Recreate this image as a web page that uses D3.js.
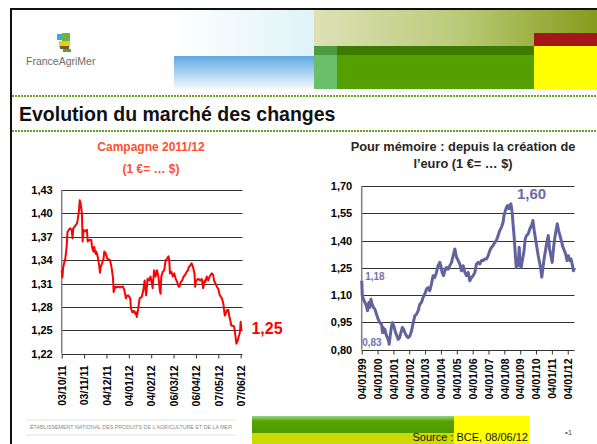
<!DOCTYPE html>
<html>
<head>
<meta charset="utf-8">
<script src="https://cdn.jsdelivr.net/npm/d3@7"></script>
<style>
  body { margin: 0; background: #fff; }
  svg { display: block; font-family: Arial, "Liberation Sans", sans-serif; }
</style>
</head>
<body>
<div id="chart"></div>
<script>
// --- data ---

// Campagne 2011/12, 1 EUR = ... USD
const campagneDates = [
  "2011-10-03","2011-10-04","2011-10-05","2011-10-08","2011-10-10","2011-10-11","2011-10-13","2011-10-15",
  "2011-10-17","2011-10-18","2011-10-19","2011-10-21","2011-10-24","2011-10-25","2011-10-27","2011-10-28",
  "2011-10-29","2011-10-31","2011-11-01","2011-11-02","2011-11-04","2011-11-07","2011-11-08","2011-11-10",
  "2011-11-13","2011-11-14","2011-11-16","2011-11-17","2011-11-19","2011-11-20","2011-11-22","2011-11-24",
  "2011-11-25","2011-11-26","2011-11-28","2011-11-30","2011-12-01","2011-12-03","2011-12-05","2011-12-07",
  "2011-12-09","2011-12-11","2011-12-13","2011-12-14","2011-12-16","2011-12-18","2011-12-20","2011-12-23",
  "2011-12-25","2011-12-27","2011-12-29","2011-12-31","2012-01-01","2012-01-03","2012-01-06","2012-01-07",
  "2012-01-09","2012-01-11","2012-01-13","2012-01-14","2012-01-15","2012-01-17","2012-01-19","2012-01-22",
  "2012-01-24","2012-01-26","2012-01-28","2012-01-30","2012-02-01","2012-02-03","2012-02-05","2012-02-06",
  "2012-02-08","2012-02-10","2012-02-12","2012-02-14","2012-02-16","2012-02-17","2012-02-18","2012-02-20",
  "2012-02-22","2012-02-24","2012-02-26","2012-02-28","2012-02-29","2012-03-01","2012-03-03","2012-03-05",
  "2012-03-07","2012-03-09","2012-03-11","2012-03-13","2012-03-14","2012-03-16","2012-03-18","2012-03-20",
  "2012-03-22","2012-03-24","2012-03-26","2012-03-27","2012-03-29","2012-03-31","2012-04-02","2012-04-04",
  "2012-04-05","2012-04-06","2012-04-07","2012-04-09","2012-04-12","2012-04-14","2012-04-16","2012-04-18",
  "2012-04-19","2012-04-21","2012-04-23","2012-04-25","2012-04-28","2012-04-30","2012-05-01","2012-05-03",
  "2012-05-05","2012-05-07","2012-05-09","2012-05-12","2012-05-14","2012-05-15","2012-05-16","2012-05-18",
  "2012-05-19","2012-05-21","2012-05-22","2012-05-24","2012-05-25","2012-05-28","2012-05-29","2012-05-30",
  "2012-05-31","2012-06-01","2012-06-03","2012-06-04","2012-06-05","2012-06-06","2012-06-07","2012-06-08"
];
const campagneRates = [
  1.327,1.318,1.331,1.342,1.359,1.376,1.379,1.381,
  1.378,1.368,1.381,1.383,1.387,1.391,1.404,1.417,
  1.414,1.400,1.364,1.379,1.377,1.379,1.364,1.366,
  1.366,1.357,1.351,1.357,1.348,1.351,1.344,1.333,
  1.324,1.331,1.336,1.342,1.351,1.349,1.342,1.341,
  1.340,1.331,1.318,1.299,1.306,1.305,1.306,1.305,
  1.306,1.306,1.301,1.291,1.294,1.295,1.291,1.278,
  1.273,1.275,1.271,1.273,1.267,1.278,1.291,1.293,
  1.301,1.314,1.295,1.316,1.314,1.319,1.310,1.304,
  1.327,1.319,1.327,1.319,1.301,1.297,1.319,1.325,
  1.327,1.340,1.342,1.345,1.340,1.323,1.325,1.319,
  1.323,1.316,1.312,1.306,1.306,1.312,1.314,1.319,
  1.321,1.325,1.327,1.331,1.333,1.336,1.331,1.323,
  1.306,1.314,1.314,1.316,1.314,1.316,1.304,1.314,
  1.312,1.319,1.314,1.319,1.323,1.321,1.314,1.310,
  1.306,1.303,1.295,1.291,1.284,1.276,1.269,1.273,
  1.276,1.276,1.269,1.261,1.256,1.256,1.254,1.248,
  1.241,1.233,1.237,1.241,1.244,1.248,1.261,1.250
];
const campagneTicks = ["03/10/11","03/11/11","04/12/11","04/01/12","04/02/12","06/03/12","06/04/12","07/05/12","07/06/12"];
const campagneYTicks = [1.22, 1.25, 1.28, 1.31, 1.34, 1.37, 1.40, 1.43];

// Depuis la création de l'euro
const euroDates = [
  "1999-01-04","1999-01-18","1999-02-14","1999-03-17","1999-04-23","1999-05-18","1999-06-17","1999-07-09",
  "1999-08-03","1999-09-02","1999-10-03","1999-11-03","1999-12-11","2000-01-19","2000-02-25","2000-04-05",
  "2000-04-27","2000-05-12","2000-06-05","2000-06-20","2000-07-29","2000-09-06","2000-09-29","2000-10-22",
  "2000-11-22","2000-12-15","2001-01-23","2001-02-23","2001-03-25","2001-04-25","2001-05-26","2001-06-26",
  "2001-07-27","2001-08-27","2001-09-24","2001-11-01","2001-12-10","2002-01-19","2002-02-25","2002-04-05",
  "2002-05-12","2002-06-20","2002-07-27","2002-09-05","2002-10-12","2002-11-20","2002-12-28","2003-02-06",
  "2003-03-15","2003-04-22","2003-05-30","2003-07-08","2003-08-14","2003-09-23","2003-10-31","2003-12-09",
  "2004-01-01","2004-02-01","2004-03-03","2004-04-04","2004-05-12","2004-06-20","2004-07-27","2004-09-05",
  "2004-10-12","2004-11-20","2004-12-28","2005-02-05","2005-03-14","2005-04-22","2005-05-30","2005-07-08",
  "2005-08-14","2005-09-23","2005-10-31","2005-12-09","2006-01-15","2006-02-24","2006-04-01","2006-05-11",
  "2006-06-17","2006-07-26","2006-09-02","2006-10-12","2006-11-18","2006-12-28","2007-02-03","2007-03-14",
  "2007-04-20","2007-05-30","2007-07-05","2007-08-14","2007-09-20","2007-10-31","2007-12-06","2007-12-28",
  "2008-01-30","2008-02-24","2008-03-17","2008-04-16","2008-05-11","2008-06-03","2008-07-02","2008-07-26",
  "2008-08-18","2008-09-10","2008-10-03","2008-10-26","2008-11-18","2008-12-12","2009-01-04","2009-01-27",
  "2009-02-27","2009-03-29","2009-04-29","2009-05-30","2009-07-08","2009-08-14","2009-09-23","2009-10-23",
  "2009-11-22","2009-12-23","2010-01-23","2010-02-23","2010-04-01","2010-04-23","2010-05-16","2010-06-08",
  "2010-07-08","2010-08-10","2010-09-09","2010-10-12","2010-11-11","2010-12-12","2011-01-11","2011-02-13",
  "2011-03-14","2011-04-15","2011-05-08","2011-06-08","2011-07-08","2011-08-17","2011-09-17","2011-10-18",
  "2011-11-17","2011-12-19","2012-01-19","2012-02-20","2012-03-21","2012-04-22","2012-05-15","2012-06-08"
];
const euroRates = [
  1.179,1.096,1.078,1.060,1.041,1.014,1.060,1.032,
  1.078,1.050,1.032,1.023,0.995,0.968,0.949,0.940,
  0.894,0.922,0.894,0.913,0.876,0.857,0.830,0.876,
  0.931,0.949,0.922,0.894,0.876,0.857,0.866,0.894,
  0.922,0.913,0.894,0.876,0.866,0.876,0.903,0.949,
  0.986,0.995,1.014,1.050,1.060,1.088,1.106,1.133,
  1.142,1.124,1.161,1.207,1.198,1.225,1.262,1.280,
  1.262,1.225,1.207,1.234,1.253,1.243,1.262,1.280,
  1.317,1.354,1.308,1.290,1.271,1.234,1.262,1.225,
  1.207,1.225,1.179,1.197,1.207,1.225,1.271,1.280,
  1.271,1.290,1.290,1.299,1.299,1.317,1.345,1.363,
  1.372,1.391,1.400,1.428,1.455,1.474,1.501,1.538,
  1.566,1.584,1.593,1.575,1.593,1.602,1.556,1.483,
  1.418,1.335,1.253,1.299,1.262,1.363,1.262,1.253,
  1.299,1.335,1.409,1.428,1.437,1.464,1.483,1.510,
  1.455,1.409,1.363,1.317,1.271,1.245,1.199,1.245,
  1.299,1.345,1.391,1.428,1.354,1.317,1.280,1.363,
  1.418,1.464,1.492,1.455,1.428,1.391,1.363,1.345,
  1.327,1.290,1.317,1.290,1.299,1.262,1.234,1.250
];
const euroTicks = ["04/01/99","04/01/00","04/01/01","04/01/02","04/01/03","04/01/04","04/01/05",
                   "04/01/06","04/01/07","04/01/08","04/01/09","04/01/10","04/01/11","04/01/12"];
const euroYTicks = [0.80, 0.95, 1.10, 1.25, 1.40, 1.55, 1.70];

// --- setup ---
const W = 597, H = 444;
const FONT = "Arial, 'Liberation Sans', sans-serif";
const parseDay = d3.timeParse("%Y-%m-%d");
const parseTick = d3.timeParse("%d/%m/%y");
const fr = d3.formatLocale({ decimal: ",", thousands: " ", grouping: [3], currency: ["", " €"] });
const fmt2 = fr.format(".2f");

const svg = d3.select("#chart").append("svg")
    .attr("width", W)
    .attr("height", H);
const defs = svg.append("defs");

function gradient(id, vertical, stops) {
  const g = defs.append("linearGradient").attr("id", id)
      .attr("x1", 0).attr("y1", 0)
      .attr("x2", vertical ? 0 : 1).attr("y2", vertical ? 1 : 0);
  stops.forEach(s => g.append("stop").attr("offset", s[0]).attr("stop-color", s[1]));
}
gradient("haze", false, [[0, "#ffffff"], [1, "#dff3f8"]]);
gradient("sky", true, [[0, "#5fa8e2"], [1, "#f4faff"]]);
gradient("olive", false, [[0, "#dde1b6"], [0.5, "#bccb7a"], [1, "#869b1c"]]);
gradient("footGreen", true, [[0, "#9ad48a"], [0.3, "#58a300"], [1, "#4f9a00"]]);

// --- header ---
svg.append("rect").attr("x", 170).attr("y", 10).attr("width", 144).attr("height", 48).attr("fill", "url(#haze)");
svg.append("rect").attr("x", 174).attr("y", 56).attr("width", 140).attr("height", 33).attr("fill", "url(#sky)");
svg.append("rect").attr("x", 314).attr("y", 10).attr("width", 283).attr("height", 36).attr("fill", "url(#olive)");
svg.append("rect").attr("x", 534).attr("y", 33).attr("width", 63).attr("height", 13).attr("fill", "#a3161a");
svg.append("rect").attr("x", 314).attr("y", 46).attr("width", 220).attr("height", 43).attr("fill", "#54a000");
svg.append("rect").attr("x", 314).attr("y", 46).attr("width", 220).attr("height", 9).attr("fill", "#3d7a02");
svg.append("rect").attr("x", 314).attr("y", 46).attr("width", 23).attr("height", 43).attr("fill", "#6cbf6a");
svg.append("rect").attr("x", 314).attr("y", 46).attr("width", 23).attr("height", 9).attr("fill", "#4e9a40");
svg.append("rect").attr("x", 534).attr("y", 46).attr("width", 63).attr("height", 43).attr("fill", "#ffff00");

// logo
const logo = svg.append("g");
logo.append("rect").attr("x", 57).attr("y", 34).attr("width", 5).attr("height", 6).attr("fill", "#3aa8d8");
logo.append("rect").attr("x", 62).attr("y", 33).attr("width", 8).attr("height", 8).attr("fill", "#6db33f");
logo.append("rect").attr("x", 59).attr("y", 41).attr("width", 11).attr("height", 6).attr("fill", "#e4cf1c");
logo.append("rect").attr("x", 60).attr("y", 46).attr("width", 9).attr("height", 3).attr("fill", "#7a5a2a");
logo.append("rect").attr("x", 63).attr("y", 49).attr("width", 8).attr("height", 3).attr("fill", "#5ca03a");
logo.append("text").attr("x", 26).attr("y", 65)
    .style("font-family", FONT).style("font-size", "10.5px").attr("fill", "#6b6b6b")
    .text("FranceAgriMer");

// separators and title
[96, 131].forEach(yy => svg.append("line")
    .attr("x1", 12).attr("x2", W).attr("y1", yy).attr("y2", yy)
    .attr("stroke", "#6aa121").attr("stroke-width", 2).attr("stroke-dasharray", "2,1"));

svg.append("text").attr("x", 19).attr("y", 121)
    .style("font-family", FONT).style("font-size", "19.5px").style("font-weight", "bold")
    .attr("fill", "#111").text("Evolution du marché des changes");

// --- panels ---
function drawPanel(o) {
  const g = svg.append("g");
  const x = d3.scaleTime().domain(o.xDomain).range([o.left, o.right]);
  const y = d3.scaleLinear().domain(o.yDomain).range([o.bottom, o.top]);

  g.selectAll("line.grid")
    .data(o.yTicks.slice(1))
    .join("line")
    .attr("class", "grid")
    .attr("x1", o.left).attr("x2", o.gridEnd)
    .attr("y1", d => Math.round(y(d)) + 0.5).attr("y2", d => Math.round(y(d)) + 0.5)
    .attr("stroke", "#333").attr("stroke-width", 1.2);

  g.append("g")
      .attr("transform", `translate(${o.left},0)`)
      .call(d3.axisLeft(y).tickValues(o.yTicks).tickFormat(fmt2).tickSize(0).tickPadding(o.yPad))
      .call(a => a.select(".domain").remove())
      .selectAll("text")
      .attr("font-family", FONT)
      .style("font-size", "11px").style("font-weight", "bold").attr("fill", "#000");

  g.append("line")
      .attr("x1", o.left).attr("x2", o.left).attr("y1", o.top).attr("y2", o.bottom)
      .attr("stroke", "#808080").attr("stroke-width", 1.5);

  const xa = g.append("g")
      .attr("transform", `translate(0,${Math.round(o.bottom) + 0.5})`)
      .call(d3.axisBottom(x)
          .tickValues(o.xTicks.map(parseTick))
          .tickFormat(d3.timeFormat("%d/%m/%y"))
          .tickSize(4).tickSizeOuter(0));
  xa.select(".domain").attr("stroke", "#333").attr("stroke-width", 1.2)
      .attr("d", `M${o.left},0H${o.gridEnd}`);
  xa.selectAll(".tick line").attr("stroke", "#333");
  xa.selectAll(".tick text")
      .attr("font-family", FONT)
      .style("font-size", "10.5px").style("font-weight", "bold").attr("fill", "#000")
      .attr("transform", "rotate(-90)")
      .attr("x", -o.xLabelGap).attr("y", 0).attr("dy", "0.36em")
      .attr("text-anchor", "end");

  const pts = o.dates.map((d, i) => ({ date: parseDay(d), value: o.values[i] }));
  g.append("path")
      .datum(pts)
      .attr("fill", "none")
      .attr("stroke", o.color)
      .attr("stroke-width", o.lineWidth)
      .attr("stroke-linejoin", "round")
      .attr("d", d3.line().x(d => x(d.date)).y(d => y(d.value)));

  o.titles.forEach((t, i) => g.append("text")
      .attr("x", o.titleX).attr("y", o.titleY + i * o.titleStep)
      .attr("text-anchor", "middle")
      .style("font-family", FONT).style("font-size", o.titleSize).style("font-weight", "bold")
      .attr("fill", o.titleColor).text(t));

  return { g, x, y, pts };
}

const left = drawPanel({
  dates: campagneDates, values: campagneRates,
  xDomain: [parseDay("2011-10-03"), parseDay("2012-06-08")], xTicks: campagneTicks,
  yDomain: [1.22, 1.43], yTicks: campagneYTicks,
  left: 61.7, right: 241.4, gridEnd: 242.5, top: 190, bottom: 353.7,
  yPad: 9, xLabelGap: 11,
  color: "#ff0000", lineWidth: 2,
  titles: ["Campagne 2011/12", "(1 €= … $)"], titleX: 151, titleY: 151, titleStep: 21.5,
  titleSize: "12px", titleColor: "#ff4f2e"
});

const right = drawPanel({
  dates: euroDates, values: euroRates,
  xDomain: [parseDay("1999-01-04"), parseDay("2012-06-08")], xTicks: euroTicks,
  yDomain: [0.80, 1.70], yTicks: euroYTicks,
  left: 361.7, right: 574.5, gridEnd: 574.5, top: 186, bottom: 349.7,
  yPad: 9.5, xLabelGap: 8,
  color: "#62639d", lineWidth: 3,
  titles: ["Pour mémoire : depuis la création de", "l’euro (1 €= … $)"], titleX: 463, titleY: 151, titleStep: 16.5,
  titleSize: "12.8px", titleColor: "#262626"
});

// value call-outs, taken from the series
const lastL = left.pts[left.pts.length - 1];
svg.append("text")
    .attr("x", left.x(lastL.date) + 10).attr("y", left.y(lastL.value) + 3.5)
    .style("font-family", FONT).style("font-size", "16px").style("font-weight", "bold")
    .attr("fill", "#ff0000").text(fmt2(lastL.value));

const maxR = right.pts.reduce((a, b) => b.value > a.value ? b : a);
const minR = right.pts.reduce((a, b) => b.value < a.value ? b : a);
const firstR = right.pts[0];
svg.append("text")
    .attr("x", right.x(maxR.date) + 6).attr("y", right.y(maxR.value) - 5)
    .style("font-family", FONT).style("font-size", "15px").style("font-weight", "bold")
    .attr("fill", "#6a6aa6").text(fmt2(maxR.value));
svg.append("text")
    .attr("x", right.x(firstR.date) + 3.5).attr("y", right.y(firstR.value) - 1)
    .style("font-family", FONT).style("font-size", "10px").style("font-weight", "bold")
    .attr("fill", "#7474aa").text(fmt2(firstR.value));
svg.append("text")
    .attr("x", right.x(firstR.date) + 0.5).attr("y", right.y(minR.value) + 2)
    .style("font-family", FONT).style("font-size", "10px").style("font-weight", "bold")
    .attr("fill", "#7474aa").text(fmt2(minR.value));

// --- footer ---
svg.append("rect").attr("x", 26).attr("y", 419).attr("width", 210).attr("height", 2).attr("fill", "#f1f1f1");
svg.append("rect").attr("x", 26).attr("y", 434).attr("width", 210).attr("height", 2).attr("fill", "#f1f1f1");
svg.append("text").attr("x", 30).attr("y", 429)
    .attr("textLength", 202).attr("lengthAdjust", "spacingAndGlyphs")
    .style("font-family", FONT).style("font-size", "5px").attr("fill", "#8a8a8a")
    .text("ÉTABLISSEMENT NATIONAL DES PRODUITS DE L'AGRICULTURE ET DE LA MER");

svg.append("rect").attr("x", 252).attr("y", 416).attr("width", 202).attr("height", 17).attr("fill", "url(#footGreen)");
svg.append("rect").attr("x", 252).attr("y", 433).attr("width", 202).attr("height", 11).attr("fill", "#ccda00");
svg.append("rect").attr("x", 454).attr("y", 416).attr("width", 75).attr("height", 28).attr("fill", "#ffff00");
svg.append("text").attr("x", 528).attr("y", 441).attr("text-anchor", "end")
    .style("font-family", FONT).style("font-size", "11px").attr("fill", "#111")
    .text("Source : BCE, 08/06/12");
svg.append("text").attr("x", 565).attr("y", 435)
    .style("font-family", FONT).style("font-size", "8px").attr("fill", "#555")
    .text("•1");

// slide frame
svg.append("line").attr("x1", 11).attr("x2", W).attr("y1", 9).attr("y2", 9)
    .attr("stroke", "#111").attr("stroke-width", 2);
svg.append("line").attr("x1", 11).attr("x2", 11).attr("y1", 8).attr("y2", H)
    .attr("stroke", "#111").attr("stroke-width", 2);
</script>
</body>
</html>
